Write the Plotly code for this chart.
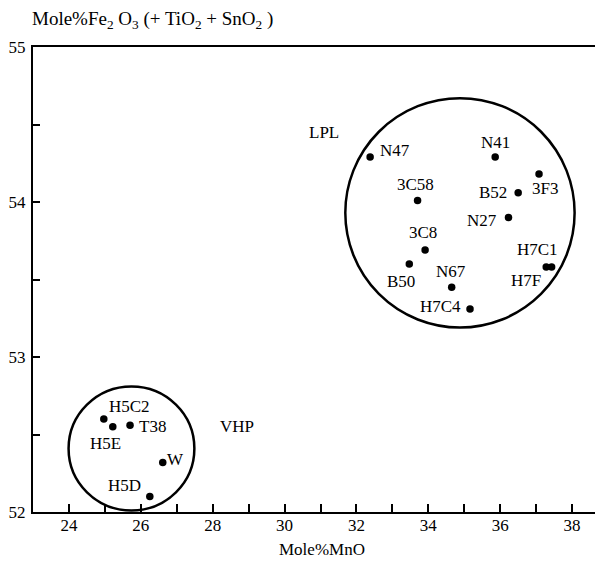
import plotly.graph_objects as go

# ---- data ----
names = ["N47", "N41", "3F3", "B52", "3C58", "N27", "3C8", "B50", "N67", "H7C4",
         "H7C1", "H7F", "H5C2", "H5E", "T38", "W", "H5D"]
mno = [32.38, 35.86, 37.08, 36.50, 33.70, 36.23, 33.91, 33.47, 34.65, 35.16,
       37.28, 37.43, 24.97, 25.22, 25.70, 26.61, 26.25]
fe2o3 = [54.29, 54.29, 54.18, 54.06, 54.01, 53.90, 53.69, 53.60, 53.45, 53.31,
         53.58, 53.58, 52.60, 52.55, 52.56, 52.32, 52.10]

group_names = ["LPL", "VHP"]
group_label_x = [31.10, 28.67]
group_label_y = [54.45, 52.55]
group_center_x = [34.88, 25.74]
group_center_y = [53.93, 52.41]
group_radius_x = [3.19, 1.75]
group_radius_y = [0.74, 0.40]

x_tickvals = list(range(24, 39))
x_ticktext = [str(v) if v % 2 == 0 else "" for v in x_tickvals]
y_tickvals = [52, 52.5, 53, 53.5, 54, 54.5, 55]
y_ticktext = ["52", "", "53", "", "54", "", "55"]
y_right_ticks = [52.5, 53, 53.5, 54, 54.5]

x_title = "Mole%MnO"
y_title = "Mole%Fe<sub>2</sub> O<sub>3</sub> (+ TiO<sub>2</sub> + SnO<sub>2</sub> )"

# label offsets in pixels (style)
label_shift = {
    "N47": (25, 7), "N41": (0, 15), "3F3": (6, -14), "B52": (-25, 0),
    "3C58": (-2, 16), "N27": (-26, -3), "3C8": (-2, 18), "B50": (-8, -17),
    "N67": (-1, 16), "H7C4": (-30, 2), "H7C1": (-9, 18), "H7F": (-26, -13),
    "H5C2": (26, 13), "H5E": (-7, -17), "T38": (22, -1), "W": (13, 3),
    "H5D": (-25, 11),
}

FONT = "Liberation Serif, Times New Roman, serif"

fig = go.Figure()
fig.add_trace(go.Scatter(
    x=mno, y=fe2o3, mode="markers",
    marker=dict(color="black", size=7.5),
    showlegend=False, hoverinfo="skip",
))
# invisible trace to activate right axis
fig.add_trace(go.Scatter(x=[mno[0]], y=[fe2o3[0]], yaxis="y2", mode="markers",
                         marker=dict(opacity=0), showlegend=False, hoverinfo="skip"))

for n, xv, yv in zip(names, mno, fe2o3):
    dx, dy = label_shift[n]
    fig.add_annotation(x=xv, y=yv, text=n, showarrow=False, xshift=dx, yshift=dy,
                       xanchor="center", yanchor="middle",
                       font=dict(family=FONT, size=17, color="black"))

for g, lx, ly, cx, cy, rx, ry in zip(group_names, group_label_x, group_label_y,
                                      group_center_x, group_center_y,
                                      group_radius_x, group_radius_y):
    fig.add_annotation(x=lx, y=ly, text=g, showarrow=False,
                       font=dict(family=FONT, size=17, color="black"))
    fig.add_shape(type="circle", xref="x", yref="y",
                  x0=cx - rx, x1=cx + rx, y0=cy - ry, y1=cy + ry,
                  line=dict(color="black", width=2.5))

fig.add_annotation(xref="paper", yref="paper", x=0.507, y=-0.0817,
                   xanchor="center", yanchor="middle", showarrow=False,
                   text=x_title, font=dict(family=FONT, size=17, color="black"))

fig.update_layout(
    width=603, height=562,
    margin=dict(l=25, r=8, t=39, b=58),
    paper_bgcolor="white", plot_bgcolor="white",
    font=dict(family=FONT, size=17, color="black"),
    title=dict(text=y_title, xref="container", yref="container",
               x=24 / 603, xanchor="left", y=1 - 10 / 562, yanchor="middle",
               font=dict(family=FONT, size=19, color="black")),
    xaxis=dict(range=[23, 38.86], tickvals=x_tickvals, ticktext=x_ticktext,
               ticks="inside", ticklen=8, tickwidth=2, tickcolor="black",
               showline=True, linecolor="black", linewidth=2, mirror=True,
               showgrid=False, zeroline=False, automargin=False,
               ticklabelstandoff=-3,
               tickfont=dict(family=FONT, size=17)),
    yaxis=dict(range=[52, 55], tickvals=y_tickvals, ticktext=y_ticktext,
               ticks="inside", ticklen=7, tickwidth=2, tickcolor="black",
               showline=True, linecolor="black", linewidth=2,
               showgrid=False, zeroline=False, automargin=False,
               ticklabelstandoff=2,
               tickfont=dict(family=FONT, size=17)),
    yaxis2=dict(range=[52, 55], overlaying="y", side="right",
                tickvals=y_right_ticks, ticks="inside", ticklen=7, tickwidth=1.5,
                tickcolor="black", showticklabels=False, showline=False,
                showgrid=False, zeroline=False, automargin=False),
)

fig.write_html("out.html")
